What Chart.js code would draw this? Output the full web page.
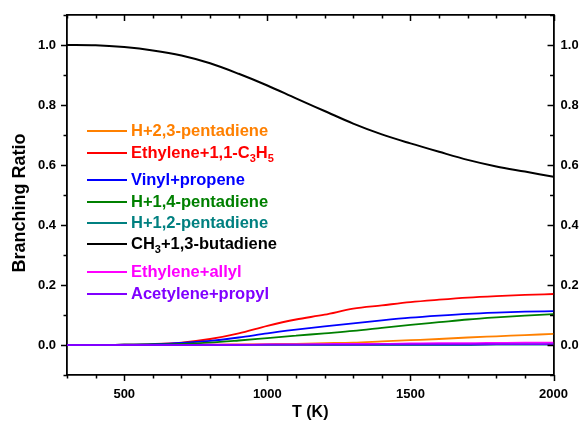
<!DOCTYPE html>
<html>
<head>
<meta charset="utf-8">
<script src="https://cdn.jsdelivr.net/npm/chart.js@4.4.1/dist/chart.umd.min.js"></script>
<style>
  body { margin: 0; background: #fff; }
  #wrap { width: 580px; height: 430px; }
</style>
</head>
<body>
<div id="wrap"><canvas id="ratioChart" width="580" height="430"></canvas></div>
<script>
// --- Data (branching ratio vs temperature) ---
const temps = [300, 400, 500, 600, 700, 800, 900, 1000, 1100, 1200, 1300, 1400, 1500, 1600, 1700, 1800, 1900, 2000];

const h23Pentadiene   = [0, 0, 0, 0, 0.001, 0.001, 0.002, 0.003, 0.004, 0.006, 0.008, 0.012, 0.016, 0.020, 0.025, 0.029, 0.033, 0.037];
const ethyleneC3H5    = [0, 0, 0.001, 0.003, 0.008, 0.020, 0.039, 0.064, 0.085, 0.101, 0.121, 0.132, 0.143, 0.151, 0.158, 0.163, 0.167, 0.170];
const vinylPropene    = [0, 0, 0.001, 0.003, 0.007, 0.014, 0.025, 0.039, 0.051, 0.062, 0.072, 0.082, 0.091, 0.098, 0.104, 0.108, 0.111, 0.113];
const h14Pentadiene   = [0, 0, 0.001, 0.002, 0.004, 0.008, 0.015, 0.023, 0.031, 0.039, 0.047, 0.057, 0.067, 0.076, 0.085, 0.092, 0.098, 0.103];
const h12Pentadiene   = [0, 0, 0, 0, 0, 0, 0, 0, 0, 0, 0, 0, 0, 0, 0, 0.001, 0.001, 0.001];
const ch3Butadiene    = [1.000, 0.999, 0.993, 0.982, 0.965, 0.939, 0.904, 0.865, 0.822, 0.780, 0.738, 0.702, 0.672, 0.644, 0.617, 0.595, 0.578, 0.561];
const ethyleneAllyl   = [0, 0, 0, 0, 0, 0.001, 0.001, 0.002, 0.002, 0.003, 0.004, 0.004, 0.005, 0.006, 0.006, 0.007, 0.008, 0.008];
const acetylenePropyl = [0, 0, 0, 0, 0, 0, 0, 0.001, 0.001, 0.001, 0.001, 0.002, 0.002, 0.002, 0.002, 0.003, 0.003, 0.003];

// legend text, pieces flagged 1 are subscripts
const seriesLabels = [
    [['H+2,3-pentadiene', 0]],
    [['Ethylene+1,1-C', 0], ['3', 1], ['H', 0], ['5', 1]],
    [['Vinyl+propene', 0]],
    [['H+1,4-pentadiene', 0]],
    [['H+1,2-pentadiene', 0]],
    [['CH', 0], ['3', 1], ['+1,3-butadiene', 0]],
    [['Ethylene+allyl', 0]],
    [['Acetylene+propyl', 0]]
];
const seriesColors = ['#FF8000', '#FF0000', '#0000FF', '#008000', '#008080', '#000000', '#FF00FF', '#8000FF'];
const seriesData = [h23Pentadiene, ethyleneC3H5, vinylPropene, h14Pentadiene, h12Pentadiene, ch3Butadiene, ethyleneAllyl, acetylenePropyl];
const legendRows = [131, 153, 180, 202, 223, 244, 272, 294];

const xTicks = [500, 1000, 1500, 2000];
const xMinor = [300, 400, 600, 700, 800, 900, 1100, 1200, 1300, 1400, 1600, 1700, 1800, 1900];
const yTicks = [0.0, 0.2, 0.4, 0.6, 0.8, 1.0];
const yMinor = [-0.1, 0.1, 0.3, 0.5, 0.7, 0.9, 1.1];

const FONT = "'Liberation Sans', Arial, sans-serif";

// --- draws the tick marks on all four sides (in/out like the original) ---
const tickMarks = {
    id: 'tickMarks',
    afterDraw(chart) {
        const ctx = chart.ctx;
        const area = chart.chartArea;
        const xs = chart.scales.x;
        const ys = chart.scales.y;
        ctx.save();
        ctx.strokeStyle = '#000';
        ctx.lineWidth = 1.5;
        ctx.beginPath();
        const mark = (list, len) => {
            list.forEach(v => {
                const px = Math.round(xs.getPixelForValue(v)) + 0.5;
                ctx.moveTo(px, area.bottom); ctx.lineTo(px, area.bottom + len);   // bottom, outward
                ctx.moveTo(px, area.top); ctx.lineTo(px, area.top + len);         // top, inward
            });
        };
        const markY = (list, len) => {
            list.forEach(v => {
                const py = Math.round(ys.getPixelForValue(v)) + 0.5;
                ctx.moveTo(area.left, py); ctx.lineTo(area.left - len, py);       // left, outward
                ctx.moveTo(area.right, py); ctx.lineTo(area.right - len, py);     // right, inward
            });
        };
        mark(xTicks, 6);
        mark(xMinor, 3.5);
        markY(yTicks, 6);
        markY(yMinor, 3.5);
        ctx.stroke();

        // axis titles
        ctx.fillStyle = '#000';
        ctx.font = 'bold 16px ' + FONT;
        ctx.textAlign = 'center';
        ctx.textBaseline = 'middle';
        ctx.fillText('T (K)', (area.left + area.right) / 2, 413);
        ctx.translate(20, 203);
        ctx.rotate(-Math.PI / 2);
        ctx.font = 'bold 18px ' + FONT;
        ctx.fillText('Branching Ratio', 0, 0);
        ctx.restore();
    }
};

// --- legend drawn inside the plot, with subscripts ---
const innerLegend = {
    id: 'innerLegend',
    afterDraw(chart) {
        const ctx = chart.ctx;
        ctx.save();
        ctx.textBaseline = 'middle';
        ctx.textAlign = 'left';
        seriesLabels.forEach((parts, i) => {
            const y = legendRows[i];
            ctx.strokeStyle = seriesColors[i];
            ctx.lineWidth = 1.8;
            ctx.beginPath();
            ctx.moveTo(87, y);
            ctx.lineTo(127, y);
            ctx.stroke();

            ctx.fillStyle = seriesColors[i];
            let x = 131;
            parts.forEach(([txt, sub]) => {
                ctx.font = sub ? 'bold 11px ' + FONT : 'bold 16.5px ' + FONT;
                ctx.fillText(txt, x, sub ? y + 6 : y);
                x += ctx.measureText(txt).width;
            });
        });
        ctx.restore();
    }
};

// keep the y axes from pushing the plot area down
function fitY(width) {
    return s => {
        s.width = width;
        s.paddingTop = 0;
        s.paddingBottom = 0;
    };
}

function initChart() {
    const ctx = document.getElementById('ratioChart').getContext('2d');

    const datasets = seriesData.map((vals, i) => ({
        label: seriesLabels[i].map(p => p[0]).join(''),
        data: vals.map((v, k) => ({ x: temps[k], y: v })),
        borderColor: seriesColors[i],
        backgroundColor: seriesColors[i],
        borderWidth: i === 5 ? 2 : 1.8,
        pointRadius: 0,
        fill: false,
        cubicInterpolationMode: 'monotone',
        // violet and magenta sit on top near zero
        order: i === 7 ? 0 : (i === 6 ? 1 : 8 - i)
    }));

    const plainBorder = { display: true, color: '#000', width: 1.8 };

    new Chart(ctx, {
        type: 'line',
        data: { datasets: datasets },
        options: {
            responsive: false,
            animation: false,
            layout: { padding: 0 },
            plugins: {
                legend: { display: false },
                tooltip: { enabled: false }
            },
            scales: {
                x: {
                    type: 'linear',
                    position: 'bottom',
                    min: 300,
                    max: 2000,
                    grid: { display: false, drawTicks: false },
                    border: plainBorder,
                    afterBuildTicks: s => { s.ticks = xTicks.map(v => ({ value: v })); },
                    afterFit: s => { s.height = 55; },
                    ticks: {
                        padding: 12,
                        color: '#000',
                        font: { family: FONT, size: 13, weight: 'bold' },
                        maxRotation: 0,
                        callback: v => String(v)
                    }
                },
                x2: {
                    type: 'linear',
                    position: 'top',
                    min: 300,
                    max: 2000,
                    grid: { display: false, drawTicks: false },
                    border: plainBorder,
                    ticks: { display: false },
                    afterFit: s => { s.height = 15; }
                },
                y: {
                    type: 'linear',
                    position: 'left',
                    min: -0.1,
                    max: 1.1,
                    grid: { display: false, drawTicks: false },
                    border: plainBorder,
                    afterBuildTicks: s => { s.ticks = yTicks.map(v => ({ value: v })); },
                    afterFit: fitY(67),
                    ticks: {
                        padding: 11,
                        color: '#000',
                        font: { family: FONT, size: 13, weight: 'bold' },
                        callback: v => v.toFixed(1)
                    }
                },
                y2: {
                    type: 'linear',
                    position: 'right',
                    min: -0.1,
                    max: 1.1,
                    grid: { display: false, drawTicks: false },
                    border: plainBorder,
                    afterBuildTicks: s => { s.ticks = yTicks.map(v => ({ value: v })); },
                    afterFit: fitY(25),
                    ticks: {
                        padding: 7,
                        color: '#000',
                        font: { family: FONT, size: 13, weight: 'bold' },
                        callback: v => v.toFixed(1)
                    }
                }
            }
        },
        plugins: [tickMarks, innerLegend]
    });
}

initChart();
</script>
</body>
</html>
